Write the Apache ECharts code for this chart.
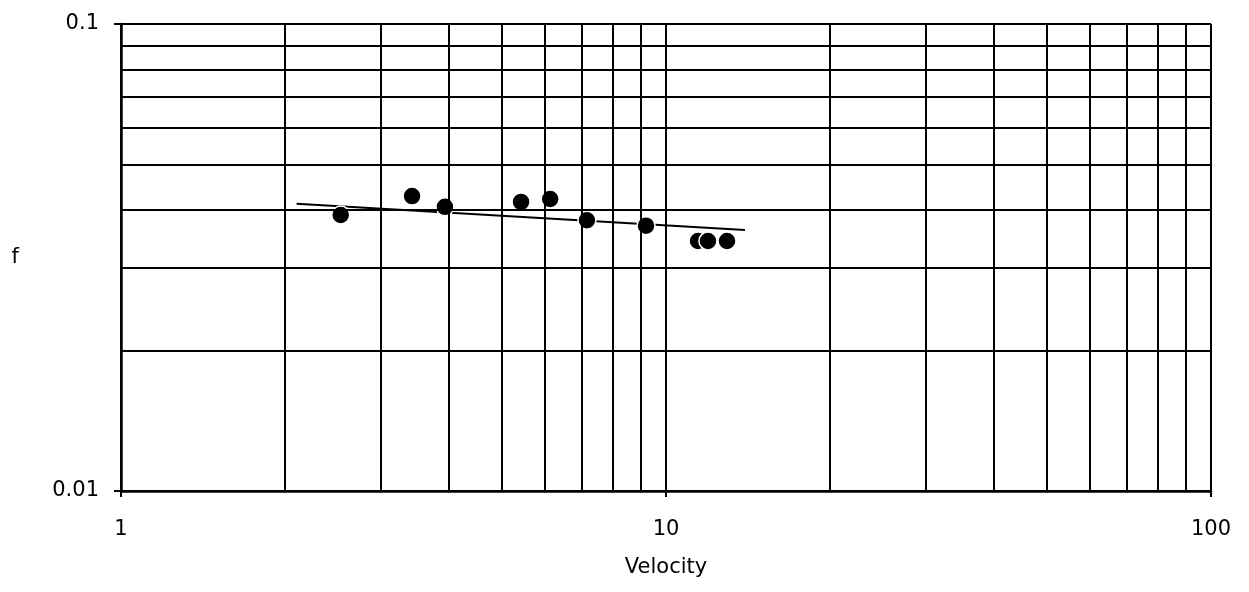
<!DOCTYPE html>
<html>
<head>
<meta charset="utf-8">
<script src="https://cdn.jsdelivr.net/npm/echarts@6/dist/echarts.min.js"></script>
<style>
  html, body { margin: 0; padding: 0; background: #fff; }
  #chart { width: 1249px; height: 592px; }
</style>
</head>
<body>
<div id="chart"></div>
<script>
// measured points (velocity, friction factor f)
const velocity = [2.53, 3.42, 3.93, 5.42, 6.13, 7.16, 9.19, 11.45, 11.94, 12.94]
const frictionF = [0.0390, 0.0428, 0.0406, 0.0416, 0.0422, 0.0380, 0.0370, 0.0343, 0.0343, 0.0343]

// fitted trend line end points
const trendX = [2.10, 13.96]
const trendY = [0.0412, 0.0362]

// minor grid lines of the log-log paper
const xGrid = [2, 3, 4, 5, 6, 7, 8, 9, 20, 30, 40, 50, 60, 70, 80, 90]
const yGrid = [0.02, 0.03, 0.04, 0.05, 0.06, 0.07, 0.08, 0.09]

const font = 'DejaVu Sans, Arial, sans-serif'
const chart = echarts.init(document.getElementById('chart'))

const gridLines = [
  ...xGrid.map(v => ({ xAxis: v })),
  ...yGrid.map(v => ({ yAxis: v }))
]

chart.setOption({
  animation: false,
  backgroundColor: '#fff',
  grid: { left: 121, right: 38, top: 24, bottom: 101 },
  xAxis: {
    type: 'log',
    logBase: 10,
    min: 1,
    max: 100,
    name: 'Velocity',
    nameLocation: 'middle',
    nameGap: 66,
    nameTextStyle: { fontFamily: font, fontSize: 21, color: '#000' },
    axisLine: { lineStyle: { color: '#000', width: 2.5 } },
    axisTick: { show: true, length: 6, lineStyle: { color: '#000', width: 2 } },
    axisLabel: { fontFamily: font, fontSize: 21, color: '#000', margin: 28 },
    splitLine: { show: true, lineStyle: { color: '#000', width: 2 } }
  },
  yAxis: {
    type: 'log',
    logBase: 10,
    min: 0.01,
    max: 0.1,
    name: 'f',
    nameLocation: 'middle',
    nameRotate: 0,
    nameGap: 102,
    nameTextStyle: { fontFamily: font, fontSize: 21, color: '#000' },
    axisLine: { show: true, lineStyle: { color: '#000', width: 2.5 } },
    axisTick: { show: true, length: 7, lineStyle: { color: '#000', width: 2 } },
    axisLabel: { fontFamily: font, fontSize: 21, color: '#000', margin: 22 },
    splitLine: { show: true, lineStyle: { color: '#000', width: 2 } }
  },
  series: [
    {
      type: 'line',
      data: [],
      z: 1,
      silent: true,
      markLine: {
        silent: true,
        symbol: 'none',
        label: { show: false },
        lineStyle: { color: '#000', width: 2, type: 'solid' },
        data: gridLines
      }
    },
    {
      type: 'line',
      z: 3,
      symbol: 'none',
      lineStyle: { color: '#000', width: 2 },
      data: trendX.map((x, i) => [x, trendY[i]])
    },
    {
      type: 'scatter',
      z: 4,
      symbol: 'circle',
      symbolSize: 18,
      itemStyle: { color: '#000', borderColor: '#fff', borderWidth: 1.5, opacity: 1 },
      data: velocity.map((x, i) => [x, frictionF[i]])
    }
  ]
})
</script>
</body>
</html>
